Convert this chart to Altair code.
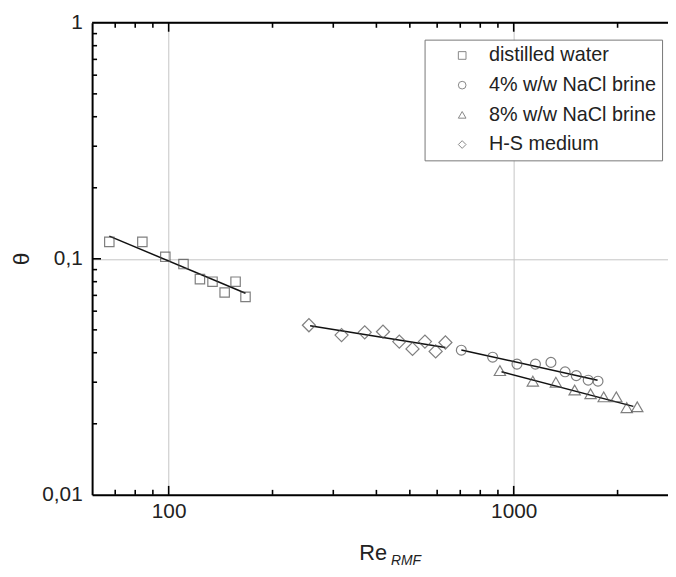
import altair as alt
import pandas as pd

# ---- data ----
series_names = ["distilled water", "4% w/w NaCl brine", "8% w/w NaCl brine", "H-S medium"]
series_shapes = ["square", "circle", "triangle-up", "diamond"]
series_sizes = [90, 100, 130, 175]

water_re = [67.3, 83.9, 97.8, 110.4, 123.2, 134, 145.3, 156.3, 167]
water_theta = [0.118, 0.118, 0.102, 0.095, 0.082, 0.080, 0.072, 0.080, 0.069]

brine4_re = [705, 869, 1022, 1156, 1282, 1409, 1518, 1644, 1755]
brine4_theta = [0.041, 0.0383, 0.0358, 0.0358, 0.0364, 0.0332, 0.032, 0.0306, 0.0303]

brine8_re = [912, 1136, 1325, 1502, 1670, 1823, 1983, 2126, 2281]
brine8_theta = [0.0336, 0.0303, 0.0300, 0.0278, 0.0268, 0.0260, 0.0260, 0.0234, 0.0236]

hs_re = [255, 317, 370, 418, 466, 509, 553, 594, 634]
hs_theta = [0.0523, 0.0475, 0.0488, 0.0491, 0.0446, 0.0415, 0.0446, 0.0405, 0.0442]

# fitted lines (start, end)
fit_re = [[67.3, 167], [705, 1750], [922, 2222], [257, 634]]
fit_theta = [[0.1248, 0.0715], [0.0411, 0.0306], [0.0332, 0.0237], [0.052, 0.0421]]

x_major = [100, 1000]
x_minor = [70, 80, 90, 200, 300, 400, 500, 600, 700, 800, 900, 2000]
y_major = [0.1]
y_minor = [0.02, 0.03, 0.04, 0.05, 0.06, 0.07, 0.08, 0.09,
           0.2, 0.3, 0.4, 0.5, 0.6, 0.7, 0.8, 0.9]
y_labels = [0.01, 0.1, 1]
x_domain = [60, 2800]
y_domain = [0.01, 1]

W, H = 582, 477
FONT = "Liberation Sans"

# ---- tables ----
xs_all = [water_re, brine4_re, brine8_re, hs_re]
ys_all = [water_theta, brine4_theta, brine8_theta, hs_theta]

lrows = []
for name, xs, ys in zip(series_names, fit_re, fit_theta):
    for a, b in zip(xs, ys):
        lrows.append({"series": name, "Re": a, "theta": b})
lines = pd.DataFrame(lrows)

xscale = alt.Scale(type="log", domain=x_domain, nice=False)
yscale = alt.Scale(type="log", domain=y_domain, nice=False)
xaxis = alt.Axis(values=x_major, grid=True, ticks=False, tickSize=0, title=None,
                 labelFontSize=21, labelPadding=6, format="d", labelFlush=False,
                 labelOverlap=False)
yaxis = alt.Axis(values=y_labels, grid=True, ticks=False, tickSize=0, title=None,
                 labelFontSize=21, labelPadding=10,
                 labelExpr="replace(toString(datum.value), '.', ',')",
                 labelOverlap=False, labelBound=False)
shape_scale = alt.Scale(domain=series_names, range=series_shapes)
legend = alt.Legend(title=None, orient="none", legendX=336, legendY=17,
                    strokeColor="#777", fillColor="white", padding=6,
                    labelFontSize=20, labelFont=FONT, labelColor="#222",
                    labelLimit=400, symbolSize=60, symbolStrokeColor="#555",
                    symbolStrokeWidth=1, symbolOffset=22, labelOffset=17,
                    rowPadding=10)


def X(f):
    return alt.X(f, type="quantitative", scale=xscale, axis=xaxis)


def Y(f):
    return alt.Y(f, type="quantitative", scale=yscale, axis=yaxis)


point_layers = []
for name, xs, ys, sz in zip(series_names, xs_all, ys_all, series_sizes):
    df = pd.DataFrame({"series": [name] * len(xs), "Re": xs, "theta": ys})
    point_layers.append(
        alt.Chart(df).mark_point(filled=False, strokeWidth=1.2, color="#4a4a4a", size=sz).encode(
            x=X("Re"), y=Y("theta"),
            shape=alt.Shape("series:N", scale=shape_scale, legend=legend),
        )
    )

fits = alt.Chart(lines).mark_line(color="#111", strokeWidth=1.5).encode(
    x=X("Re"), y=Y("theta"), detail="series:N"
)

xmaj = pd.DataFrame({"v": x_major})
xmin = pd.DataFrame({"v": x_minor})
ymaj = pd.DataFrame({"v": y_major})
ymin = pd.DataFrame({"v": y_minor})


def xticks(df, ln):
    bot = alt.Chart(df).mark_rule(color="black", strokeWidth=1.6).encode(
        x=X("v"), y=alt.value(H), y2=alt.value(H - ln))
    top = alt.Chart(df).mark_rule(color="black", strokeWidth=1.6).encode(
        x=X("v"), y=alt.value(0), y2=alt.value(ln))
    return bot + top


def yticks(df, ln):
    return alt.Chart(df).mark_rule(color="black", strokeWidth=1.6).encode(
        y=Y("v"), x=alt.value(0), x2=alt.value(ln))


frame_top = alt.Chart(pd.DataFrame({"a": [0]})).mark_rule(color="black", strokeWidth=2).encode(
    x=alt.value(0), x2=alt.value(W), y=alt.value(0))

one = pd.DataFrame({"a": [0]})
t_re = alt.Chart(one).mark_text(text="Re", font=FONT, fontSize=22, align="left",
                                baseline="alphabetic", color="#222").encode(
    x=alt.value(270), y=alt.value(543))
t_sub = alt.Chart(one).mark_text(text="RMF", font=FONT, fontSize=14, fontStyle="italic",
                                 align="left", baseline="alphabetic", color="#222").encode(
    x=alt.value(302), y=alt.value(548))
t_theta = alt.Chart(one).mark_text(text="θ", font=FONT, fontSize=23, angle=270,
                                   align="center", baseline="middle", color="#222").encode(
    x=alt.value(-71), y=alt.value(H / 2))

chart = alt.layer(
    xticks(xmin, 5), xticks(xmaj, 9), yticks(ymin, 5), yticks(ymaj, 9),
    frame_top, fits, *point_layers, t_re, t_sub, t_theta
).properties(
    width=W, height=H,
    autosize=alt.AutoSizeParams(type="none"),
    padding={"left": 85, "top": 12, "right": 0, "bottom": 72},
).configure_view(stroke=None).configure_axis(
    domainColor="black", domainWidth=2, gridColor="#c4c4c4", gridWidth=1,
    labelFont=FONT, labelColor="#222"
)

chart.save("out.html", embed_options={"renderer": "svg", "actions": False})
